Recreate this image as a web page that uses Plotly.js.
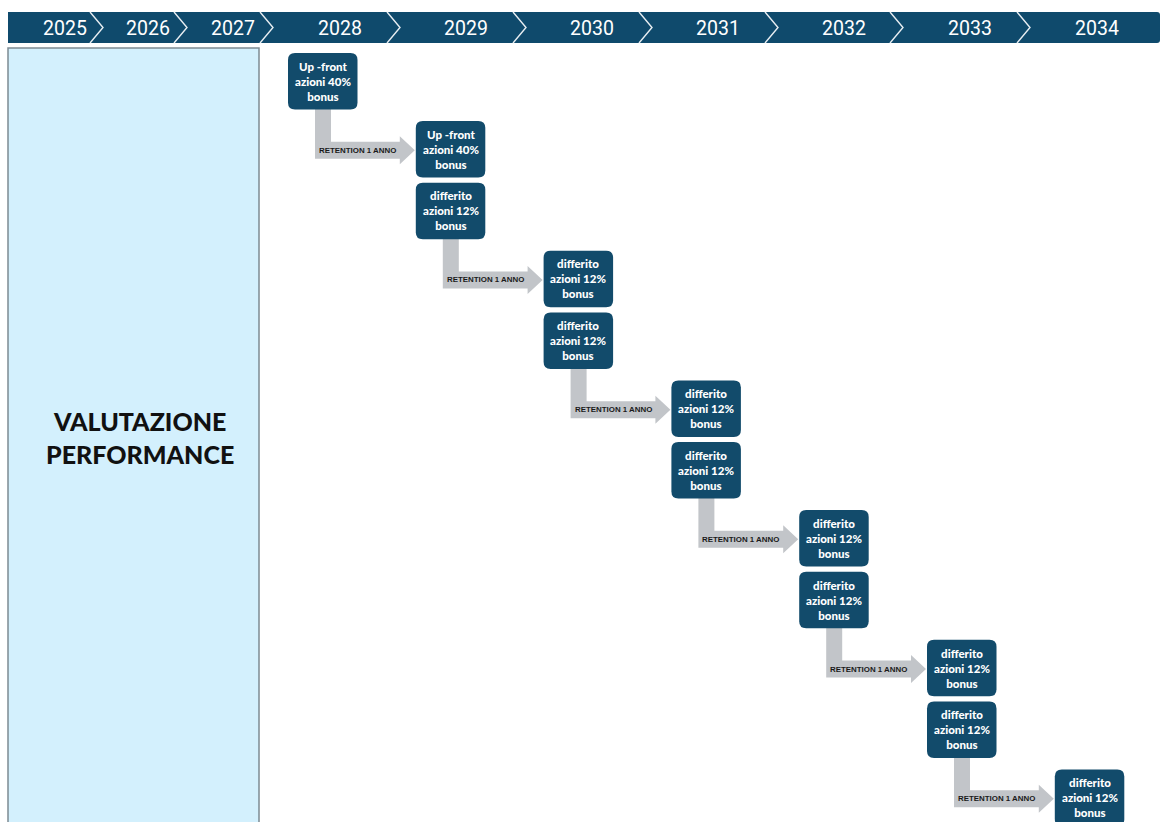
<!DOCTYPE html>
<html>
<head>
<meta charset="utf-8">
<script src="https://cdn.plot.ly/plotly-3.0.1.min.js"></script>
<style>
  html, body { margin: 0; padding: 0; background: #ffffff; }
  #chart { width: 1161px; height: 822px; }
</style>
</head>
<body>
<div id="chart"></div>
<script>
// ---------------- DATA ----------------
const years = [2025, 2026, 2027, 2028, 2029, 2030, 2031, 2032, 2033, 2034];
const phaseLines = ['VALUTAZIONE', 'PERFORMANCE'];
const boxYears  = [2028, 2029, 2029, 2030, 2030, 2031, 2031, 2032, 2032, 2033, 2033, 2034];
const boxKinds  = ['Up -front', 'Up -front', 'differito', 'differito', 'differito', 'differito',
                   'differito', 'differito', 'differito', 'differito', 'differito', 'differito'];
const boxShares = [40, 40, 12, 12, 12, 12, 12, 12, 12, 12, 12, 12];
const boxInstrument = 'azioni';
const boxBase = 'bonus';
const retentionYearsCount = 1;
const retentionText = 'RETENTION ' + retentionYearsCount + ' ANNO';

// ---------------- LAYOUT CONSTANTS (positions / styles) ----------------
const W = 1161, H = 822;
const HEADER = { x0: 8, x1: 1160, y0: 12, y1: 43, depth: 13, fill: '#0f4a6c' };
const chevronTops = [90, 174, 260, 387, 513, 639, 765, 890, 1017];
const PANEL = { x0: 8, x1: 259, y0: 48, y1: 830, fill: '#d3f0fd', line: '#7d8a93' };
const BOX = { left0: 288, colStep: 127.8, w: 69.5, h: 56.5, top0: 53, arrowGap: 68, stackGap: 61.7, r: 7, fill: '#124b6b' };
const ARROW = { barOff0: 27, barOff1: 43, half: 8.5, headHalf: 14, headLen: 15, fill: '#c2c5c9' };

const xOfBoxYear = y => BOX.left0 + BOX.colStep * (y - years[3]);

function boxTop(j) {
  return BOX.top0 + BOX.arrowGap * Math.ceil(j / 2) + BOX.stackGap * Math.floor(j / 2);
}

function roundRect(x0, y0, x1, y1, r) {
  return `M${x0 + r},${y0} L${x1 - r},${y0} Q${x1},${y0} ${x1},${y0 + r} ` +
         `L${x1},${y1 - r} Q${x1},${y1} ${x1 - r},${y1} L${x0 + r},${y1} ` +
         `Q${x0},${y1} ${x0},${y1 - r} L${x0},${y0 + r} Q${x0},${y0} ${x0 + r},${y0} Z`;
}

const shapes = [];
const annotations = [];

// Left panel
shapes.push({ type: 'rect', xref: 'x', yref: 'y', x0: PANEL.x0, x1: PANEL.x1, y0: PANEL.y0, y1: PANEL.y1,
  fillcolor: PANEL.fill, line: { color: PANEL.line, width: 1.5 }, layer: 'below' });
annotations.push({ xref: 'x', yref: 'y', x: 140, y: 437.5, text: phaseLines.join('<br>'),
  showarrow: false, xanchor: 'center', yanchor: 'middle', align: 'center',
  font: { family: 'Lato, "Open Sans", sans-serif', size: 25, color: '#111111', weight: 900 } });

// Header bar (rounded right corner)
{
  const { x0, x1, y0, y1 } = HEADER, r = 3;
  shapes.push({ type: 'path', xref: 'x', yref: 'y',
    path: `M${x0},${y0} L${x1 - r},${y0} Q${x1},${y0} ${x1},${y0 + r} L${x1},${y1 - r} Q${x1},${y1} ${x1 - r},${y1} L${x0},${y1} Z`,
    fillcolor: HEADER.fill, line: { width: 0 } });
}
chevronTops.forEach(cx => {
  const ym = (HEADER.y0 + HEADER.y1) / 2;
  shapes.push({ type: 'path', xref: 'x', yref: 'y',
    path: `M${cx},${HEADER.y0} L${cx + HEADER.depth},${ym} L${cx},${HEADER.y1}`,
    line: { color: '#e8eef2', width: 1.4 } });
});
years.forEach((yr, i) => {
  const left = i === 0 ? HEADER.x0 : chevronTops[i - 1];
  const right = i < chevronTops.length ? chevronTops[i] : HEADER.x1 - 15;
  annotations.push({ xref: 'x', yref: 'y', x: (left + right) / 2 + 16, y: 28, text: String(yr),
    showarrow: false, xanchor: 'center', yanchor: 'middle',
    font: { family: 'Roboto, "Liberation Sans", sans-serif', size: 19.5, color: '#ffffff' } });
});

// Retention arrows (from last box of a year to first box of next year)
for (let j = 0; j < boxYears.length - 1; j++) {
  if (boxYears[j + 1] !== boxYears[j] + retentionYearsCount) continue;
  const sLeft = xOfBoxYear(boxYears[j]);
  const sBottom = boxTop(j) + BOX.h;
  const tLeft = xOfBoxYear(boxYears[j + 1]);
  const hc = boxTop(j + 1) + BOX.h / 2 + 1;
  const bx0 = sLeft + ARROW.barOff0, bx1 = sLeft + ARROW.barOff1;
  const tip = tLeft - 1, base = tip - ARROW.headLen;
  const path = `M${bx0},${sBottom - 3} L${bx1},${sBottom - 3} L${bx1},${hc - ARROW.half} L${base},${hc - ARROW.half} ` +
               `L${base},${hc - ARROW.headHalf} L${tip},${hc} L${base},${hc + ARROW.headHalf} L${base},${hc + ARROW.half} ` +
               `L${bx0},${hc + ARROW.half} Z`;
  shapes.push({ type: 'path', xref: 'x', yref: 'y', path, fillcolor: ARROW.fill, line: { width: 0 } });
  annotations.push({ xref: 'x', yref: 'y', x: (bx0 + base) / 2, y: hc, text: retentionText,
    showarrow: false, xanchor: 'center', yanchor: 'middle',
    font: { family: '"Liberation Sans", Arial, sans-serif', size: 7.9, color: '#1a1a1a', weight: 'bold' } });
}

// Boxes
boxYears.forEach((yr, j) => {
  const x0 = xOfBoxYear(yr), y0 = boxTop(j);
  shapes.push({ type: 'path', xref: 'x', yref: 'y', path: roundRect(x0, y0, x0 + BOX.w, y0 + BOX.h, BOX.r),
    fillcolor: BOX.fill, line: { width: 0 } });
  annotations.push({ xref: 'x', yref: 'y', x: x0 + BOX.w / 2, y: y0 + BOX.h / 2,
    text: `${boxKinds[j]}<br>${boxInstrument} ${boxShares[j]}%<br>${boxBase}`,
    showarrow: false, xanchor: 'center', yanchor: 'middle', align: 'center',
    font: { family: 'Lato, "Open Sans", sans-serif', size: 11.5, color: '#ffffff', weight: 900 } });
});

const layout = {
  width: W, height: H,
  margin: { l: 0, r: 0, t: 0, b: 0, pad: 0 },
  paper_bgcolor: '#ffffff', plot_bgcolor: '#ffffff',
  showlegend: false,
  xaxis: { range: [0, W], visible: false, fixedrange: true },
  yaxis: { range: [H, 0], visible: false, fixedrange: true },
  shapes, annotations
};

Plotly.newPlot('chart', [{ x: [], y: [], type: 'scatter', mode: 'markers', hoverinfo: 'skip' }], layout,
  { displayModeBar: false, staticPlot: true });
</script>
</body>
</html>
